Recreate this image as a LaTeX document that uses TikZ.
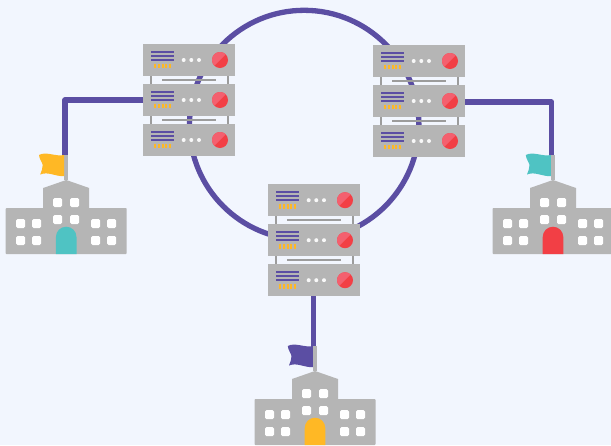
\documentclass[tikz,border=0pt]{standalone}
\definecolor{pagebg}{HTML}{F2F6FE}
\definecolor{ringblue}{HTML}{5B4EA3}
\definecolor{boxgray}{HTML}{B5B5B5}
\definecolor{linkgray}{HTML}{9C9C9C}
\definecolor{flagyellow}{HTML}{FFB825}
\definecolor{flagteal}{HTML}{4FC3C3}
\definecolor{doorred}{HTML}{F23F45}
\definecolor{btnlight}{HTML}{F4606F}
\tikzset{
  link/.style={draw=ringblue, line width=5.3pt, line join=round},
  rackunit/.style={rectangle, fill=boxgray, minimum width=92pt, minimum height=32pt, inner sep=0pt, outer sep=0pt},
  win/.style={fill=white, rounded corners=1.5pt},
  wall/.style={fill=boxgray, rounded corners=0.8pt}
}
% one stack of three units, top left corner at (#2,#3)
\newcommand{\rackstack}[3]{
  \begin{scope}[shift={(#2,#3)}]
    \foreach \u/\ty in {a/0,b/40,c/80}{
      \node[rackunit, anchor=north west] (#1\u) at (0,\ty) {};
      \foreach \ly in {7.7,11.8,16}
        \fill[ringblue] (8,\ty+\ly-1) rectangle (31,\ty+\ly+1);
      \foreach \lx in {11.7,15.7,19.7,23.4,27}
        \fill[flagyellow] (\lx-1,\ty+20) rectangle (\lx+1,\ty+24.3);
      \foreach \lx in {40.7,48.3,56}
        \fill[white!90!boxgray] (\lx,\ty+16) circle (2pt);
      \fill[doorred] (77,\ty+16) circle (8pt);
      \begin{scope}
        \clip (77,\ty+16) circle (8pt);
        \fill[btnlight] (67,\ty+26) -- (87,\ty+6) -- (67,\ty+6) -- cycle;
      \end{scope}
    }
    \foreach \ty in {32,72}{
      \fill[linkgray] (7,\ty) rectangle (9,\ty+8);
      \fill[linkgray] (84,\ty) rectangle (86,\ty+8);
      \fill[linkgray] (19,\ty+2.7) rectangle (73,\ty+4.7);
    }
  \end{scope}
}
% one school, #2,#3 is the roof peak
\newcommand{\campus}[5]{
  \begin{scope}[shift={(#2,#3)}]
    \coordinate (#1) at (-1.3,-25);
    \fill[boxgray] (-2.2,-25) rectangle (2.2,0);
    \fill[#4] (-27.2,-25) .. controls (-20,-29) and (-10,-23) .. (-2.2,-25)
      -- (-2.2,-4) .. controls (-10,-3) and (-18,-9) .. (-26,-5.5)
      .. controls (-25,-9) and (-23,-12) .. (-23.5,-15) .. controls (-24,-18) and (-27,-21) .. (-27.2,-25) -- cycle;
    \fill[wall] (-60.5,28) rectangle (60.5,74);
    \fill[boxgray] (-23,28.5) -- (-23,8) -- (0,0) -- (23,8) -- (23,28.5) -- cycle;
    \foreach \wx/\wy in {-13/18,4/18,-13/35,4/35,-50/39,-34/39,25/39,41/39,-50/56,-34/56,25/56,41/56}
      \fill[win] (\wx,\wy) rectangle (\wx+9,\wy+9);
    \fill[#5] (-10.3,74) -- (-10.3,57) arc[start angle=180, end angle=360, radius=10.3pt, y radius=-10.3pt] -- (10.3,74) -- cycle;
  \end{scope}
}
\begin{document}
\begin{tikzpicture}[x=1pt,y=-1pt]
\useasboundingbox[fill=pagebg] (0,0) rectangle (611,445);
%Ring
\node[circle, draw=ringblue, line width=5.3pt, minimum size=229.4pt, inner sep=0pt] (ring) at (304.2,125) {};
%Schools
\campus{c1}{66.2}{180}{flagyellow}{flagteal}
\campus{c2}{553}{180}{flagteal}{doorred}
\campus{c3}{315}{371}{ringblue}{flagyellow}
%Racks
\rackstack{s1}{143}{44}
\rackstack{s2}{373}{45}
\rackstack{s3}{268}{184.2}
%Lines
\draw[link] (s1b.west) -| (c1);
\draw[link] ([yshift=-1pt]s2b.east) -| (c2);
\draw[link] (s3c.south -| c3) -- (c3);
\end{tikzpicture}
\end{document}
